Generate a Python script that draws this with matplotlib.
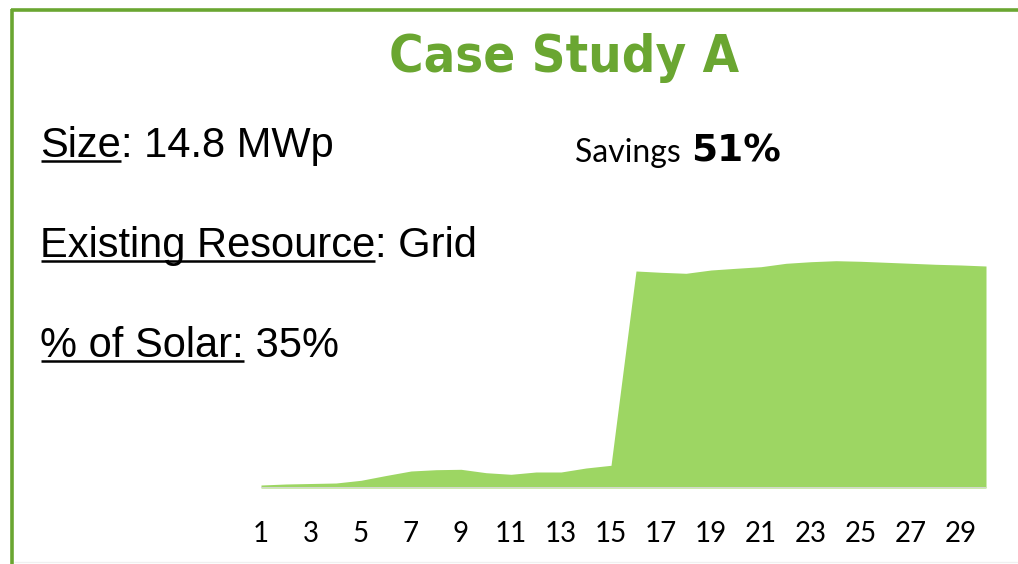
import matplotlib
matplotlib.use("Agg")
import matplotlib.pyplot as plt
from matplotlib.lines import Line2D

# data
days = list(range(1, 31))
values = [3, 4, 4.5, 5, 7.7, 12.5, 17, 18.3, 18.7, 15.3, 13.7, 16, 16, 20, 22.7,
          217, 215.7, 214.7, 218, 219.7, 221.3, 224.7, 226.3, 227.3, 226.7,
          225.7, 224.7, 223.7, 223, 222]
tick_days = list(range(1, 31, 2))

title = "Case Study A"
savings_label = "Savings "
savings_value = "51%"
info_lines = [
    ("Size", ": 14.8 MWp"),
    ("Existing Resource", ": Grid"),
    ("% of Solar:", " 35%"),
]

W, H = 1018, 564
GREEN = "#6aa631"
FILL = "#9dd663"
CALIBRI_LIKE = ["Lato", "DejaVu Sans"]
TAHOMA_LIKE = ["Liberation Sans", "DejaVu Sans"]

fig = plt.figure(figsize=(W / 100, H / 100), dpi=100)
renderer = fig.canvas.get_renderer()


def px(x, y):
    # pixel coords (top-left origin) -> figure fraction
    return x / W, 1 - y / H


def hline(x0, x1, y, color, lw):
    fig.add_artist(Line2D([x0 / W, x1 / W], [1 - y / H, 1 - y / H],
                          transform=fig.transFigure, color=color, lw=lw,
                          solid_capstyle="butt"))


# green frame (top and left)
hline(11, W, 9.5, GREEN, 2.6)
fig.add_artist(Line2D([12 / W, 12 / W], [1 - 8.5 / H, 0], transform=fig.transFigure,
                      color=GREEN, lw=2.6, solid_capstyle="butt"))
hline(14, W, 562, "#f0f0f0", 1)

# title
fig.text(*px(564, 72), title, ha="center", va="baseline", fontsize=37.7,
         fontweight="bold", fontstretch="condensed", color=GREEN,
         family="DejaVu Sans")

# left info lines, underlined label + plain text
baselines = [157, 257, 357]
for (label, rest), yb in zip(info_lines, baselines):
    t = fig.text(*px(40, yb), label, ha="left", va="baseline", fontsize=30,
                 family=TAHOMA_LIKE, color="black")
    bb = t.get_window_extent(renderer)
    fig.text(bb.x1 / W, 1 - yb / H, rest, ha="left", va="baseline", fontsize=30,
             family=TAHOMA_LIKE, color="black")
    hline(bb.x0 + 1, bb.x1, yb + 4, "black", 1.8)

# savings
t = fig.text(*px(575, 162), savings_label, ha="left", va="baseline", fontsize=23,
             family=CALIBRI_LIKE, color="black")
bb = t.get_window_extent(renderer)
fig.text(bb.x1 / W + 2 / W, 1 - 162 / H, savings_value, ha="left", va="baseline",
         fontsize=27, fontweight="bold", family="DejaVu Sans", color="black")

# area chart
x0, x1 = 261, 986
yb, ytop = 488, 258
ax = fig.add_axes([x0 / W, 1 - yb / H, (x1 - x0) / W, (yb - ytop) / H])
ax.fill_between(days, values, 0, color=FILL, lw=0)
ax.set_xlim(days[0], days[-1])
ax.set_ylim(0, yb - ytop)
ax.axhline(0, color="#d9d9d9", lw=2, zorder=3)
for s in ax.spines.values():
    s.set_visible(False)
ax.set_yticks([])
ax.set_xticks(tick_days)
ax.set_xticklabels([str(d) for d in tick_days], family=CALIBRI_LIKE, fontsize=20)
ax.tick_params(axis="x", length=0, pad=24)
ax.patch.set_alpha(0)

fig.savefig("out.png", dpi=100, facecolor="white")
